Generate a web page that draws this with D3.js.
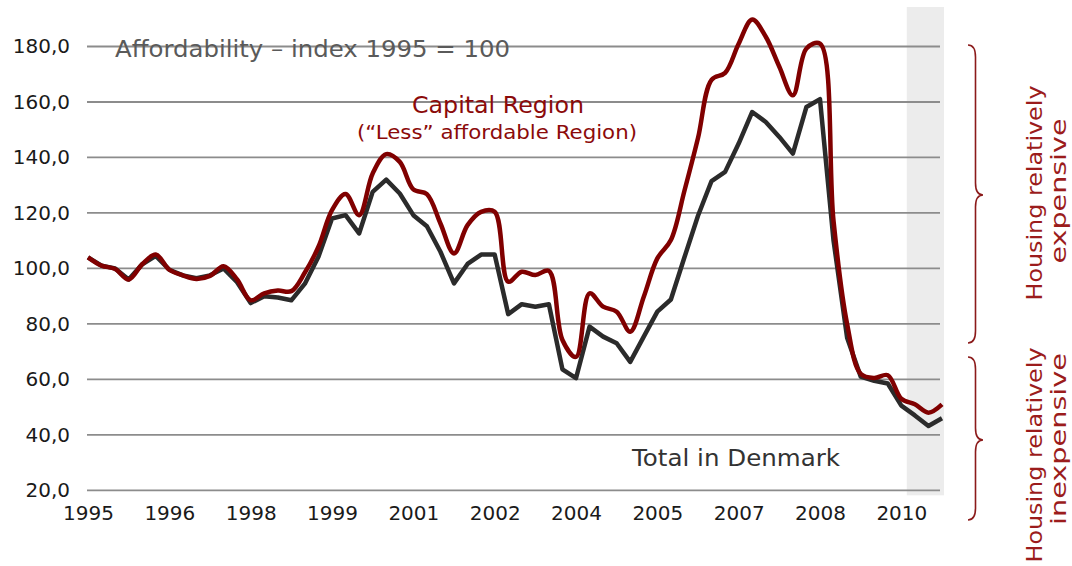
<!DOCTYPE html>
<html>
<head>
<meta charset="utf-8">
<script src="https://cdn.jsdelivr.net/npm/d3@7"></script>
<style>
  body { margin: 0; background: #fff; }
  svg { display: block; font-family: "DejaVu Sans", Verdana, sans-serif; }
</style>
</head>
<body>
<div id="chart"></div>
<script>
// quarterly categories 1995Q1 - 2010Q4
const quarters = [
  "1995Q1","1995Q2","1995Q3","1995Q4","1996Q1","1996Q2","1996Q3","1996Q4",
  "1997Q1","1997Q2","1997Q3","1997Q4","1998Q1","1998Q2","1998Q3","1998Q4",
  "1999Q1","1999Q2","1999Q3","1999Q4","2000Q1","2000Q2","2000Q3","2000Q4",
  "2001Q1","2001Q2","2001Q3","2001Q4","2002Q1","2002Q2","2002Q3","2002Q4",
  "2003Q1","2003Q2","2003Q3","2003Q4","2004Q1","2004Q2","2004Q3","2004Q4",
  "2005Q1","2005Q2","2005Q3","2005Q4","2006Q1","2006Q2","2006Q3","2006Q4",
  "2007Q1","2007Q2","2007Q3","2007Q4","2008Q1","2008Q2","2008Q3","2008Q4",
  "2009Q1","2009Q2","2009Q3","2009Q4","2010Q1","2010Q2","2010Q3","2010Q4"
];

const totalDenmark = [
  104, 101, 100, 96, 101.5, 104.5, 99.5, 97.5,
  96.5, 97.5, 100, 95, 87.5, 90, 89.5, 88.5,
  94.5, 104.2, 118, 119.2, 112.6, 127.6, 132, 127,
  119.2, 115.2, 106, 94.6, 101.6, 105, 105, 83.5,
  87.1, 86.2, 87.1, 63.6, 60.4, 79, 75.4, 73,
  66.3, 75.4, 84.4, 88.8, 104, 119, 131.5, 134.8,
  145, 156.4, 152.8, 147.4, 141.4, 158.2, 161, 110,
  75, 61, 59.5, 58.5, 50.5, 47, 43.2, 46
];

const capitalRegion = [
  104, 101, 99.8, 96, 101.5, 105, 99.5, 97.5,
  96.2, 97.3, 100.8, 96, 88.5, 91, 92, 91.8,
  98.5, 107.8, 121, 126.8, 119.2, 134.2, 141.2, 138.4,
  128.5, 126.8, 116.2, 105.4, 115.6, 120.4, 120.4, 95.2,
  98.8, 97.6, 99.1, 74.2, 68.1, 91, 86.2, 84.4,
  77.2, 89.8, 103.6, 110.2, 128, 147, 168, 170.5,
  181, 189.7, 183.5, 172.7, 162.4, 179.3, 181, 117,
  80, 62, 60.5, 61.5, 53, 51, 48, 51
];

const tickQuarters = ["1995Q1","1996Q3","1998Q1","1999Q3","2001Q1","2002Q3","2004Q1","2005Q3","2007Q1","2008Q3","2010Q1"];
const yTicks = [20, 40, 60, 80, 100, 120, 140, 160, 180];
const shadeFrom = "2010Q2";

const width = 1072, height = 566;
const svg = d3.select('#chart').append('svg').attr('width', width).attr('height', height);

const x = d3.scalePoint().domain(quarters).range([88, 942]);
const y = d3.scaleLinear().domain([20, 180]).range([490.3, 46.5]);
const step = x.step();

// forecast shading
svg.append('rect')
  .attr('x', x(shadeFrom) - step * 0.6)
  .attr('y', 7)
  .attr('width', x(quarters[quarters.length - 1]) + 2 - (x(shadeFrom) - step * 0.6))
  .attr('height', y(20) + 5 - 7)
  .attr('fill', '#ececec');

// gridlines
svg.append('g').selectAll('line').data(yTicks).enter().append('line')
  .attr('x1', 87).attr('x2', 940)
  .attr('y1', d => y(d)).attr('y2', d => y(d))
  .attr('stroke', '#8c8c8c').attr('stroke-width', 1.8);

// y axis
const yAxis = svg.append('g').attr('transform', 'translate(88,0)')
  .call(d3.axisLeft(y).tickValues(yTicks).tickSize(0).tickPadding(18)
    .tickFormat(d => d3.format('.1f')(d).replace('.', ',')));
yAxis.select('.domain').remove();
yAxis.selectAll('text').attr('font-size', '20px').attr('fill', '#1a1a1a')
  .attr('font-family', '"DejaVu Sans", sans-serif');

// x axis
const xAxis = svg.append('g').attr('transform', 'translate(0,' + y(20) + ')')
  .call(d3.axisBottom(x).tickValues(tickQuarters).tickSize(0).tickPadding(16)
    .tickFormat(d => d.slice(0, 4)));
xAxis.select('.domain').remove();
xAxis.selectAll('text').attr('font-size', '20px').attr('fill', '#1a1a1a')
  .attr('font-family', '"DejaVu Sans", sans-serif');

// lines
const lineTotal = d3.line()
  .x((d, i) => x(quarters[i]))
  .y(d => y(d));

const lineCapital = d3.line()
  .x((d, i) => x(quarters[i]))
  .y(d => y(d))
  .curve(d3.curveCatmullRom.alpha(0.5));

svg.append('path').datum(totalDenmark)
  .attr('d', lineTotal)
  .attr('fill', 'none')
  .attr('stroke', '#2b2b2b')
  .attr('stroke-width', 4.5)
  .attr('stroke-linejoin', 'round');

svg.append('path').datum(capitalRegion)
  .attr('d', lineCapital)
  .attr('fill', 'none')
  .attr('stroke', '#800000')
  .attr('stroke-width', 4.5)
  .attr('stroke-linejoin', 'round');

// annotations
svg.append('text')
  .attr('x', 115).attr('y', 57)
  .attr('font-size', '23px').attr('fill', '#5a5a5a')
  .attr('textLength', 395).attr('lengthAdjust', 'spacingAndGlyphs')
  .text('Affordability \u2013 index 1995 = 100');

svg.append('text')
  .attr('x', 498).attr('y', 113)
  .attr('text-anchor', 'middle')
  .attr('font-size', '23px').attr('fill', '#8b0a0a')
  .attr('textLength', 172).attr('lengthAdjust', 'spacingAndGlyphs')
  .text('Capital Region');

svg.append('text')
  .attr('x', 497).attr('y', 139)
  .attr('text-anchor', 'middle')
  .attr('font-size', '20px').attr('fill', '#8b0a0a')
  .attr('textLength', 280).attr('lengthAdjust', 'spacingAndGlyphs')
  .text('(\u201cLess\u201d affordable Region)');

svg.append('text')
  .attr('x', 736).attr('y', 466)
  .attr('text-anchor', 'middle')
  .attr('font-size', '23px').attr('fill', '#333333')
  .attr('textLength', 208).attr('lengthAdjust', 'spacingAndGlyphs')
  .text('Total in Denmark');

// braces
function brace(y0, y1, ym) {
  const x0 = 968, w = 15, s = x0 + w / 2, r = 12;
  return 'M' + x0 + ',' + y0 +
    ' Q' + s + ',' + y0 + ' ' + s + ',' + (y0 + r) +
    ' L' + s + ',' + (ym - r) +
    ' Q' + s + ',' + ym + ' ' + (x0 + w) + ',' + ym +
    ' Q' + s + ',' + ym + ' ' + s + ',' + (ym + r) +
    ' L' + s + ',' + (y1 - r) +
    ' Q' + s + ',' + y1 + ' ' + x0 + ',' + y1;
}

svg.append('path').attr('d', brace(45, 343, 195))
  .attr('fill', 'none').attr('stroke', '#8b1a1a').attr('stroke-width', 1.6);
svg.append('path').attr('d', brace(357, 520, 440))
  .attr('fill', 'none').attr('stroke', '#8b1a1a').attr('stroke-width', 1.6);

const sideLabels = [
  { text: 'Housing relatively', x: 1042, y: 193, len: 215 },
  { text: 'expensive', x: 1066, y: 191, len: 145 },
  { text: 'Housing relatively', x: 1042, y: 455, len: 215 },
  { text: 'inexpensive', x: 1066, y: 439, len: 172 }
];
svg.append('g').selectAll('text').data(sideLabels).enter().append('text')
  .attr('transform', d => 'translate(' + d.x + ',' + d.y + ') rotate(-90)')
  .attr('text-anchor', 'middle')
  .attr('font-size', '22px').attr('fill', '#9b1c1c')
  .attr('textLength', d => d.len).attr('lengthAdjust', 'spacingAndGlyphs')
  .text(d => d.text);
</script>
</body>
</html>
